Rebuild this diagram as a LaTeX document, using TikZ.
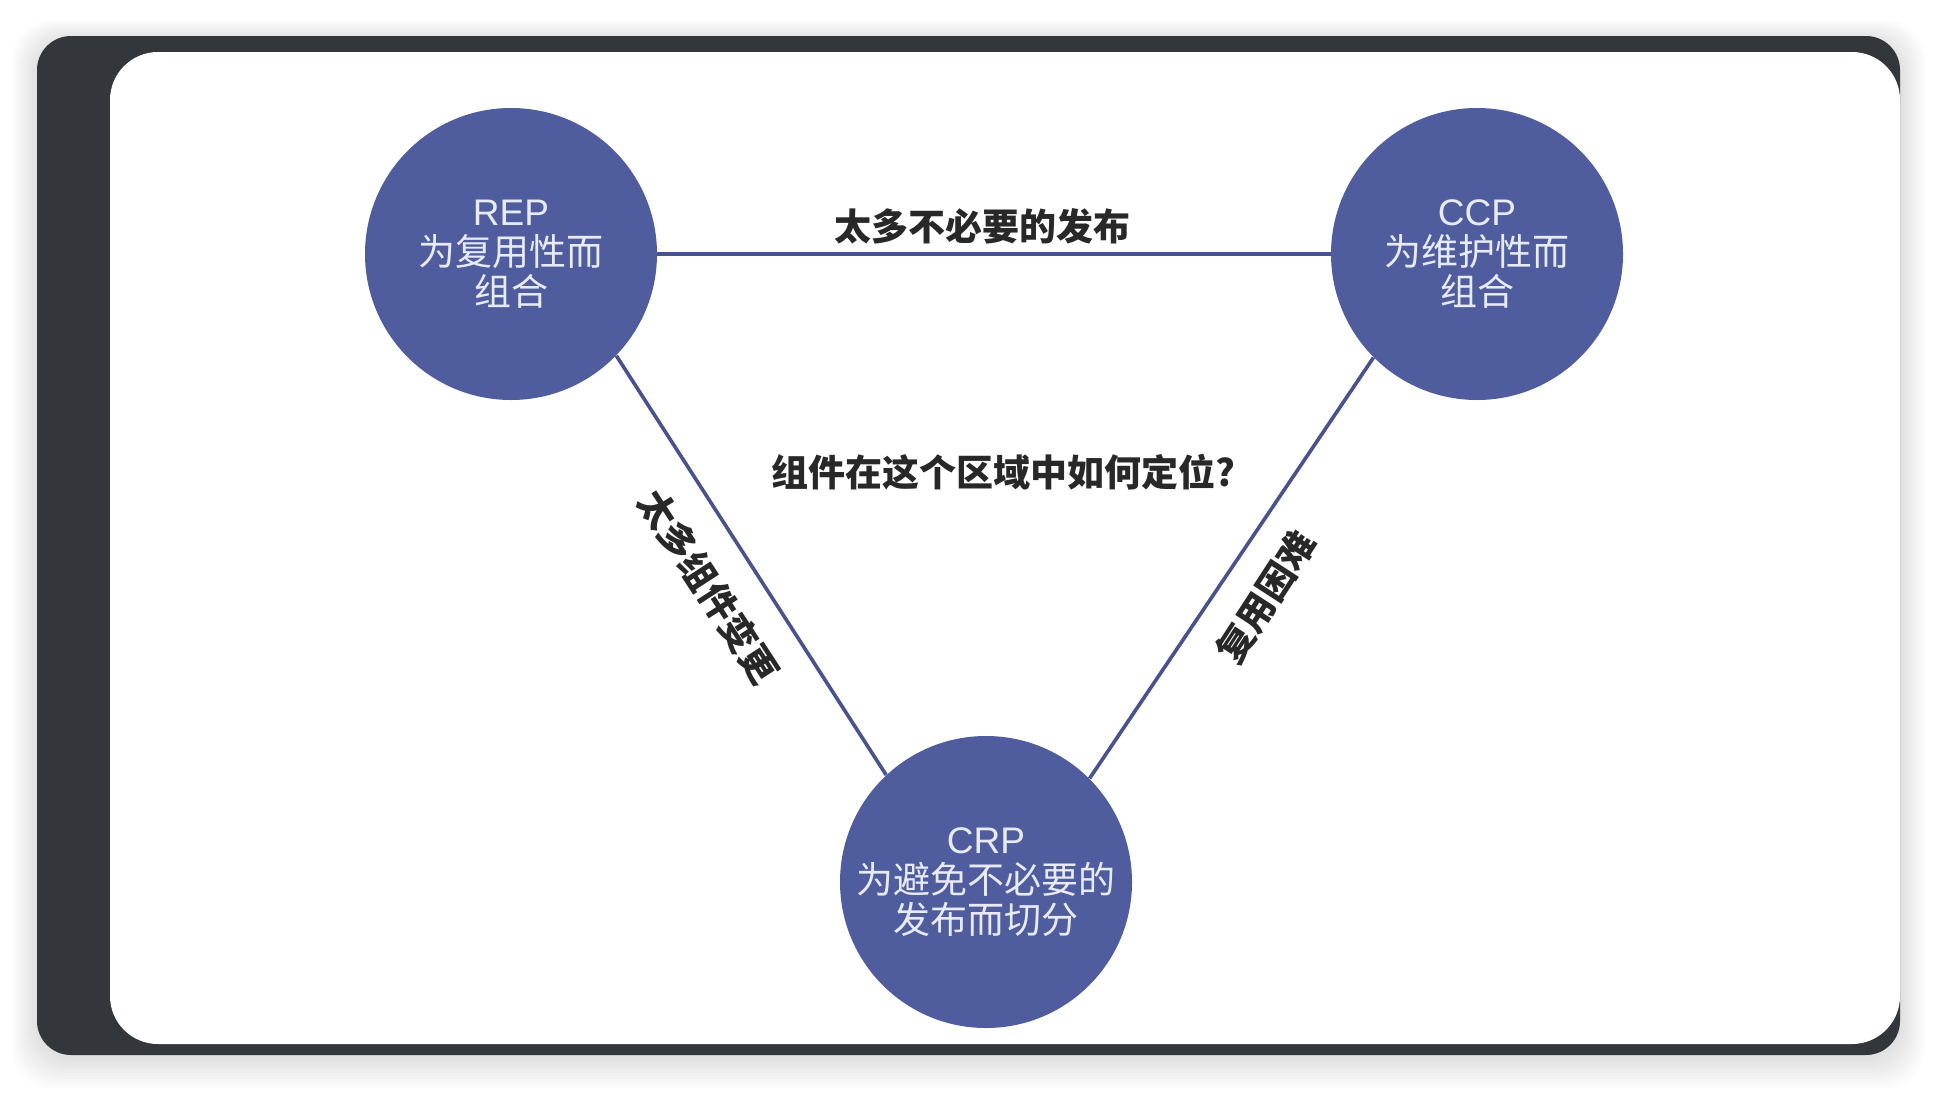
\documentclass[tikz,border=0pt]{standalone}
\usepackage{fontspec}
\setmainfont{Liberation Sans}
\newfontfamily\cjk{Noto Sans CJK SC}
\definecolor{framedark}{RGB}{51,54,59}
\definecolor{circfill}{RGB}{79,93,158}
\definecolor{circtext}{RGB}{232,234,246}
\definecolor{connline}{RGB}{72,82,142}
\definecolor{labeltext}{RGB}{40,40,40}
\tikzset{
  circ/.style={circle, fill=circfill, minimum size=146pt, inner sep=0pt,
    text=circtext, align=center, font=\fontsize{18.5}{20}\selectfont},
  conn/.style={draw=connline, line width=1.8pt},
  lbl/.style={text=labeltext, inner sep=0pt, font=\cjk\bfseries\fontsize{18.5}{20}\selectfont}
}
\begin{document}
\begin{tikzpicture}[x=0.5pt, y=-0.5pt]
\useasboundingbox (0,0) rectangle (1936,1092);
\fill[white] (0,0) rectangle (1936,1092);
% soft shadow
\foreach \i in {1,...,10}{
  \fill[black, opacity=0.012, rounded corners=20pt]
    (37-2.5*\i, 40-2*\i) rectangle (1900+2.5*\i, 1058+3*\i);
}
% dark frame
\fill[framedark, rounded corners=17pt] (37,36) rectangle (1900,1055);
% white panel
\fill[white, rounded corners=24pt] (110,52) rectangle (1900,1044);

% nodes
\node[circ] (rep) at (511,254) {REP\\{\cjk 为复用性而}\\{\cjk 组合}};
\node[circ] (ccp) at (1477,254) {CCP\\{\cjk 为维护性而}\\{\cjk 组合}};
\node[circ] (crp) at (986,882) {CRP\\{\cjk 为避免不必要的}\\{\cjk 发布而切分}};

% connectors
\draw[conn] (rep.east) -- (ccp.west);
\draw[conn] (rep.-44.5) -- (crp.133.6);
\draw[conn] (ccp.-135.8) -- (crp.45);

% labels
\node[lbl] (ltop) at (982,226) {太多不必要的发布};
\node[lbl] (lmid) at (1003,472) {组件在这个区域中如何定位?};
\node[lbl, rotate=-57] (lleft) at (709,587) {太多组件变更};
\node[lbl, rotate=57] (lright) at (1266,597) {复用困难};
\end{tikzpicture}
\end{document}
